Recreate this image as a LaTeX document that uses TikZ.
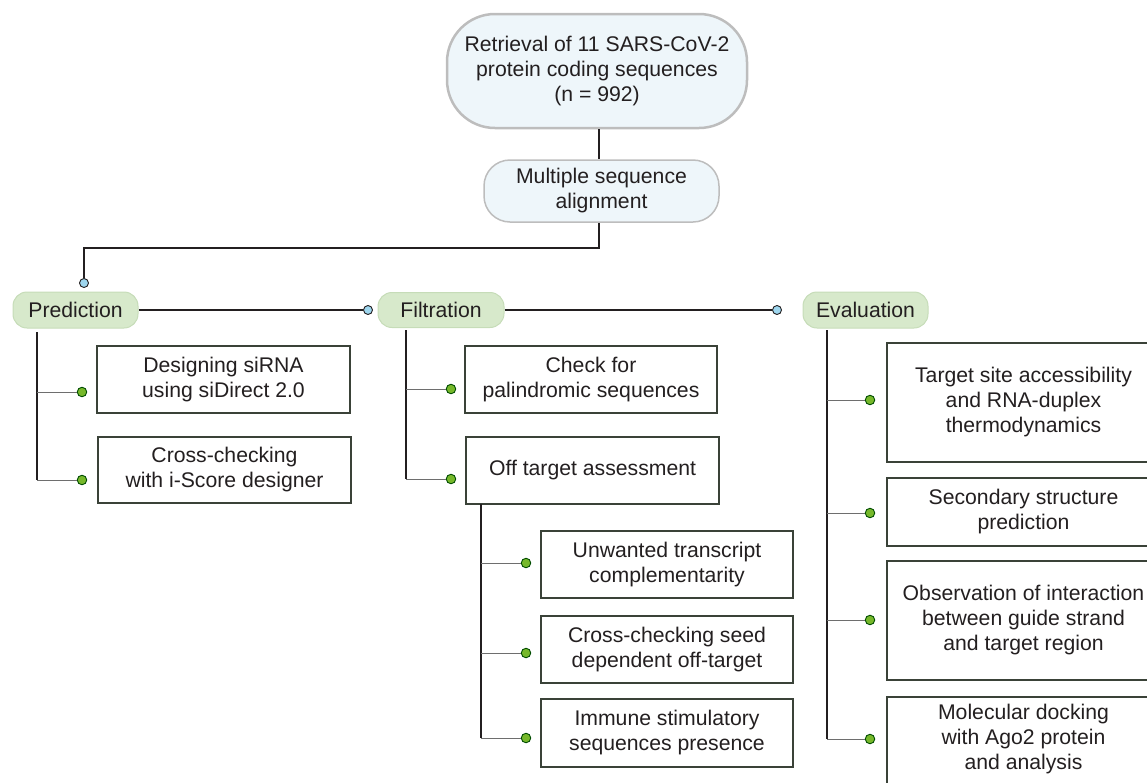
\documentclass[tikz,border=0pt]{standalone}
\usepackage{fontspec}
\setmainfont{Liberation Sans}
\definecolor{txt}{HTML}{231F20}
\definecolor{boxline}{HTML}{3A4238}
\definecolor{topfill}{HTML}{EEF6FA}
\definecolor{topline}{HTML}{BDBDBD}
\definecolor{grnfill}{HTML}{D7E9CB}
\definecolor{grnline}{HTML}{C6DCB8}
\definecolor{bluedot}{HTML}{9ED6EE}
\definecolor{greendot}{HTML}{76B82A}
\definecolor{branch}{HTML}{6E6E6E}
\begin{document}
\begin{tikzpicture}[x=1pt,y=-1pt,
  every node/.style={font=\fontsize{21.2}{25}\selectfont, text=txt, align=center, inner sep=0pt},
  topbox/.style={draw=topline, line width=2.5pt, fill=topfill, rounded corners=48pt},
  msabox/.style={draw=topline, line width=1.5pt, fill=topfill, rounded corners=26pt},
  phase/.style={draw=grnline, line width=1pt, fill=grnfill, rounded corners=14pt},
  stepbox/.style={draw=boxline, line width=1.4pt, fill=white},
  mainline/.style={draw=txt, line width=1.4pt},
  branchline/.style={draw=branch, line width=1pt},
  bdot/.style={circle, draw=txt, line width=0.9pt, fill=bluedot, minimum size=9pt, inner sep=0pt},
  gdot/.style={circle, draw=black!70!green, line width=0.9pt, fill=greendot, minimum size=9.5pt, inner sep=0pt}
]
\useasboundingbox (0,0) rectangle (1147,782);
\clip (0,0) rectangle (1147,782);

% top nodes
\node[topbox, minimum width=300pt, minimum height=114pt] (top) at (597,71)
  {Retrieval of 11 SARS-CoV-2\\protein coding sequences\\(n = 992)};
\node[msabox, minimum width=235pt, minimum height=62pt] (msa) at (601.5,191)
  {Multiple sequence\\alignment};

% phases
\node[phase, minimum width=125pt, minimum height=36pt] (pred) at (75.5,310) {Prediction};
\node[phase, minimum width=126pt, minimum height=35pt] (filt) at (441,310) {Filtration};
\node[phase, minimum width=125pt, minimum height=36pt] (eval) at (865.5,310) {Evaluation};

% dots at phase entries
\node[bdot] (d0) at (84,283) {};
\node[bdot] (d1) at (368,310) {};
\node[bdot] (d2) at (777,310) {};

% prediction boxes
\node[stepbox, minimum width=253pt, minimum height=67pt] (p1) at (223.5,379.5) {Designing siRNA\\using siDirect 2.0};
\node[stepbox, minimum width=253pt, minimum height=66pt] (p2) at (224.5,470) {Cross-checking\\with i-Score designer};

% filtration boxes
\node[stepbox, minimum width=252pt, minimum height=67pt] (f1) at (591,379.5) {Check for\\palindromic sequences};
\node[stepbox, minimum width=253pt, minimum height=67pt] (f2) at (592.5,470.5) {Off target assessment};
\node[stepbox, minimum width=252pt, minimum height=67pt] (o1) at (667,564.5) {Unwanted transcript\\complementarity};
\node[stepbox, minimum width=252pt, minimum height=67pt] (o2) at (667,649.5) {Cross-checking seed\\dependent off-target};
\node[stepbox, minimum width=252pt, minimum height=68pt] (o3) at (667,733) {Immune stimulatory\\sequences presence};

% evaluation boxes
\node[stepbox, minimum width=273pt, minimum height=119pt] (e1) at (1023.5,402.5) {Target site accessibility\\and RNA-duplex\\thermodynamics};
\node[stepbox, minimum width=273pt, minimum height=68pt] (e2) at (1023.5,512) {Secondary structure\\prediction};
\node[stepbox, minimum width=273pt, minimum height=119pt] (e3) at (1023.5,620.5) {Observation of interaction\\between guide strand\\and target region};
\node[stepbox, minimum width=273pt, minimum height=119pt] (e4) at (1023.5,756.5) {};
\node (e4t) at (1023.5,739) {Molecular docking\\with Ago2 protein\\and analysis};

% green dots
\node[gdot] (gp1) at (82,392) {};
\node[gdot] (gp2) at (82,480) {};
\node[gdot] (gf1) at (451,389) {};
\node[gdot] (gf2) at (451,479) {};
\node[gdot] (go1) at (526,563) {};
\node[gdot] (go2) at (526,653) {};
\node[gdot] (go3) at (526,738) {};
\node[gdot] (ge1) at (870,400) {};
\node[gdot] (ge2) at (870,513) {};
\node[gdot] (ge3) at (870,620) {};
\node[gdot] (ge4) at (870,739) {};

% trunk coordinates
\coordinate (pt) at (37,332);
\coordinate (pb) at (37,480);
\coordinate (ft) at (406,330);
\coordinate (fb) at (406,479);
\coordinate (ot) at (481,504);
\coordinate (ob) at (481,738);
\coordinate (et) at (827,330);
\coordinate (eb) at (827,739);

% main connectors
\draw[mainline] (top.south -| 599,0) -- (msa.north -| 599,0);
\draw[mainline] (msa.south -| 599,0) -- (599,248) -- (84,248) -- (d0.north);
\draw[mainline] (pred.east) -- (d1.west);
\draw[mainline] (filt.east) -- (d2.west);

% trunks
\draw[mainline] (pt) -- (pb);
\draw[mainline] (ft) -- (fb);
\draw[mainline] (ot) -- (ob);
\draw[mainline] (et) -- (eb);

% branches
\draw[branchline] (37,392) -- (gp1.west);
\draw[branchline] (pb) -- (gp2.west);
\draw[branchline] (406,389) -- (gf1.west);
\draw[branchline] (fb) -- (gf2.west);
\draw[branchline] (481,563) -- (go1.west);
\draw[branchline] (481,653) -- (go2.west);
\draw[branchline] (ob) -- (go3.west);
\draw[branchline] (827,400) -- (ge1.west);
\draw[branchline] (827,513) -- (ge2.west);
\draw[branchline] (827,620) -- (ge3.west);
\draw[branchline] (eb) -- (ge4.west);
\end{tikzpicture}
\end{document}
